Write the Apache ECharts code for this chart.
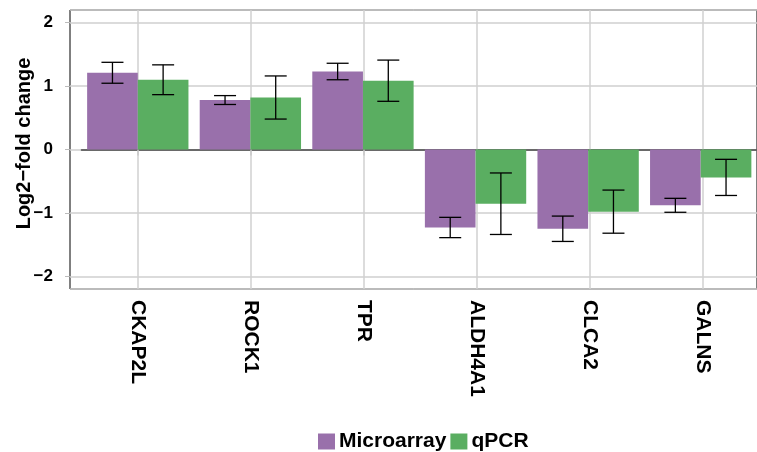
<!DOCTYPE html>
<html><head><meta charset="utf-8">
<script src="https://cdn.jsdelivr.net/npm/echarts@6/dist/echarts.min.js"></script>
<style>html,body{margin:0;padding:0;background:#fff}#c{width:757px;height:452px}</style>
</head><body><div id="c"></div>
<script>
const categories = ['CKAP2L', 'ROCK1', 'TPR', 'ALDH4A1', 'CLCA2', 'GALNS'];
const microarray = [1.21, 0.78, 1.23, -1.23, -1.25, -0.88];
const microarrayErr = [0.165, 0.07, 0.13, 0.16, 0.20, 0.11];
const qpcr = [1.10, 0.82, 1.085, -0.855, -0.98, -0.44];
const qpcrErr = [0.235, 0.34, 0.325, 0.485, 0.34, 0.285];
const yTicks = [-2, -1, 0, 1, 2];

const FONT = 'Liberation Sans, Arial, sans-serif';
const PURPLE = '#9970ab', GREEN = '#5aae61';

function errRender(sign) {
  return function (params, api) {
    const i = api.value(0), v = api.value(1), e = api.value(2);
    const band = api.size([1, 0])[0];
    const off = sign * band * 0.9 / 4;
    const top = api.coord([i, v + e]);
    const bot = api.coord([i, v - e]);
    const x = top[0] + off, hw = 11;
    const st = { stroke: '#000', lineWidth: 1.3 };
    return { type: 'group', children: [
      { type: 'line', shape: { x1: x, y1: top[1], x2: x, y2: bot[1] }, style: st },
      { type: 'line', shape: { x1: x - hw, y1: top[1], x2: x + hw, y2: top[1] }, style: st },
      { type: 'line', shape: { x1: x - hw, y1: bot[1], x2: x + hw, y2: bot[1] }, style: st }
    ]};
  };
}

const chart = echarts.init(document.getElementById('c'), null, { renderer: 'canvas' });
chart.setOption({
  animation: false,
  textStyle: { fontFamily: FONT },
  grid: [
    { left: 70, top: 10, width: 701, height: 279, show: true, borderColor: '#000', borderWidth: 1, containLabel: false },
    { left: 81.5, top: 10, width: 678, height: 279, containLabel: false },
    { left: 138, top: 10, width: 565, height: 279, containLabel: false }
  ],
  legend: {
    data: ['Microarray', 'qPCR'],
    left: 313, top: 426,
    itemWidth: 17, itemHeight: 16, itemGap: 4,
    icon: 'rect',
    textStyle: { fontFamily: FONT, fontWeight: 'bold', fontSize: 21, color: '#000', padding: [0, 0, 0, -1] }
  },
  xAxis: [
    { type: 'value', gridIndex: 0, show: false, min: 0, max: 1 },
    {
      type: 'category', gridIndex: 1, data: categories,
      axisLine: { show: true, lineStyle: { color: '#444', width: 1.5 } },
      axisTick: { show: false }, splitLine: { show: false }, axisLabel: { show: false }
    },
    {
      type: 'category', gridIndex: 2, data: categories, boundaryGap: false,
      axisLine: { show: false },
      axisTick: { show: true, interval: 0, length: 6, lineStyle: { color: '#c8c8c8', width: 1.5 } },
      splitLine: { show: true, interval: 0, lineStyle: { color: '#d0d0d0', width: 1.5 } },
      axisLabel: { rotate: -90, margin: 11, fontFamily: FONT, fontWeight: 'bold', fontSize: 21, color: '#000', interval: 0 }
    }
  ],
  yAxis: [
    {
      type: 'value', gridIndex: 0, min: -2.2, max: 2.2, splitNumber: 4,
      name: 'Log2\u2212fold change', nameLocation: 'middle', nameGap: 36, nameRotate: 90,
      nameMoveOverlap: false,
      nameTextStyle: { fontFamily: FONT, fontWeight: 'bold', fontSize: 20, color: '#000', padding: [0, 0, 0, 12] },
      axisLine: { show: false },
      axisTick: { show: true, length: 5, lineStyle: { color: '#bbb' } },
      splitLine: { show: true, lineStyle: { color: '#cfcfcf', width: 1.5 } },
      axisLabel: {
        margin: 17, fontFamily: FONT, fontWeight: 'bold', fontSize: 17, color: '#000',
        showMinLabel: false, showMaxLabel: false,
        formatter: v => yTicks.includes(v) ? String(v).replace('-', '\u2212') : ''
      }
    },
    { type: 'value', gridIndex: 1, min: -2.2, max: 2.2, show: false, splitLine: { show: false } },
    { type: 'value', gridIndex: 2, min: -2.2, max: 2.2, show: false, splitLine: { show: false } }
  ],
  series: [
    { name: 'Microarray', type: 'bar', xAxisIndex: 1, yAxisIndex: 1, data: microarray,
      barGap: '0%', barCategoryGap: '10%', itemStyle: { color: PURPLE }, z: 3 },
    { name: 'qPCR', type: 'bar', xAxisIndex: 1, yAxisIndex: 1, data: qpcr,
      barGap: '0%', barCategoryGap: '10%', itemStyle: { color: GREEN }, z: 3 },
    { name: 'errM', type: 'custom', xAxisIndex: 1, yAxisIndex: 1, z: 5,
      renderItem: errRender(-1), encode: { x: 0, y: 1 },
      data: microarray.map((v, i) => [i, v, microarrayErr[i]]) },
    { name: 'errQ', type: 'custom', xAxisIndex: 1, yAxisIndex: 1, z: 5,
      renderItem: errRender(1), encode: { x: 0, y: 1 },
      data: qpcr.map((v, i) => [i, v, qpcrErr[i]]) }
  ]
});
</script>
</body></html>
